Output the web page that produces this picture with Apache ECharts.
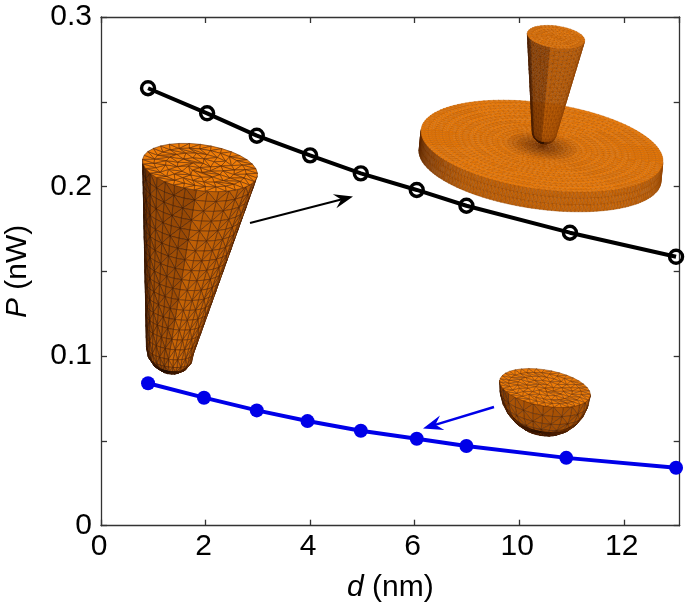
<!DOCTYPE html>
<html><head><meta charset="utf-8">
<style>html,body{margin:0;padding:0;background:#fff}#c{width:685px;height:602px}</style>
<script src="https://cdn.jsdelivr.net/npm/echarts@6/dist/echarts.min.js"></script>
</head><body><div id="c"></div>
<script>
// Horizontal position along the drawn axis; the printed tick labels skip 8.
const xTickLabels = ['0','2','4','6','10','12'];
const yTickLabels = {0:'0',0.1:'0.1',0.2:'0.2',0.3:'0.3'};
const openX = [0.90,2.03,2.98,4.00,4.97,6.04,6.99,8.97,11.00];
const openP = [0.258,0.2432,0.230,0.2184,0.2078,0.198,0.1887,0.1728,0.1586];
const solidX = [0.90,1.97,2.98,3.95,4.97,6.04,6.99,8.90,11.00];
const solidP = [0.084,0.0755,0.068,0.0617,0.056,0.0513,0.047,0.040,0.0342];

const FONT='"Liberation Sans", Arial, sans-serif';
const BLUE='#0000e8';
const parts=[];
function shade(f){
  const r=Math.min(255,Math.round(246*f)),g=Math.round(130*Math.pow(f,1.2)),b=Math.round(8*f);
  return 'rgb('+r+','+g+','+b+')';
}
function tri(pts,f,sw,so){
  parts.push({type:'polygon',silent:true,shape:{points:pts},
    style:{fill:shade(f),stroke:shade(f*(1-so)),lineWidth:sw,lineJoin:'round'}});
}
function ell(c,a,b,th,s){return [c[0]+s*(a[0]*Math.cos(th)+b[0]*Math.sin(th)),c[1]+s*(a[1]*Math.cos(th)+b[1]*Math.sin(th))];}
function axesFrom(A,B,deg){const p=deg*Math.PI/180,co=Math.cos(p),si=Math.sin(p);return [[A*co,A*si],[-B*si,B*co]];}
function frontCentre(a,b,d){
  const det=a[0]*b[1]-a[1]*b[0];
  const al=(d[0]*b[1]-d[1]*b[0])/det, be=(a[0]*d[1]-a[1]*d[0])/det;
  return Math.atan2(be,al);
}
function strip(r0,r1,fn,sw,so){
  let i=0,j=0;
  while(i<r0.length-1||j<r1.length-1){
    const u0=i/(r0.length-1||1),u1=j/(r1.length-1||1);
    if(j>=r1.length-1||(i<r0.length-1&&u0<=u1)){tri([r0[i],r0[i+1],r1[j]],fn((u0+u1)/2),sw,so);i++;}
    else{tri([r0[i],r1[j+1],r1[j]],fn((u0+u1)/2),sw,so);j++;}
  }
}
function cap(c,a,b,rings,stepPx,fn,sw,so,pow){
  let prev=null;
  for(let k=rings;k>=0;k--){
    const s=Math.pow(k/rings,pow||1);
    const rp=Math.hypot(a[0],a[1])*s;
    const n=s===0?1:Math.max(6,Math.round(2*Math.PI*rp/stepPx));
    const ring=[];
    for(let q=0;q<=n;q++)ring.push(ell(c,a,b,(q+(k%2)*0.5)/n*2*Math.PI,s));
    if(prev){const sv=s;strip(prev,ring,()=>fn(sv),sw,so);}
    prev=ring;
  }
}
function body(o){
  const {c0,c1,a,b,end,rows,hemiRows,n,sw,so,tone}=o;
  const d=[c1[0]-c0[0],c1[1]-c0[1]];
  const tc=frontCentre(a,b,Math.hypot(d[0],d[1])>1?d:o.dir);
  const L=[];
  for(let r=0;r<=rows;r++){const t=r/rows;L.push({c:[c0[0]+d[0]*t,c0[1]+d[1]*t],s:1+(end-1)*t,dk:1});}
  const u=o.dir;
  for(let r=1;r<=hemiRows;r++){const ph=r/hemiRows*Math.PI/2;
    L.push({c:[c1[0]+u[0]*Math.sin(ph),c1[1]+u[1]*Math.sin(ph)],s:end*Math.cos(ph),dk:o.hemiDark+(1-o.hemiDark)*Math.cos(ph)});}
  const ring=l=>{const R=[];for(let q=0;q<=n;q++){R.push(ell(l.c,a,b,tc-Math.PI/2+q/n*Math.PI,l.s));}return R;};
  for(let r=0;r<L.length-1;r++){
    const R0=ring(L[r]),R1=ring(L[r+1]),dk=(L[r].dk+L[r+1].dk)/2;
    for(let q=0;q<n;q++){
      const um=(q+0.5)/n; // 0 = right edge, 1 = left edge
      const f=tone(um,r/(L.length-1))*dk;
      const flip=(q+r)%2===0, alt=flip?1:0.96;
      if(flip){tri([R0[q],R0[q+1],R1[q]],f*alt,sw,so);tri([R0[q+1],R1[q+1],R1[q]],f*0.97,sw,so);}
      else{tri([R0[q],R0[q+1],R1[q+1]],f*alt,sw,so);tri([R0[q],R1[q+1],R1[q]],f,sw,so);}
    }
  }
}
function arrow(x0,y0,x1,y1,col,w,len){
  const l=Math.hypot(x1-x0,y1-y0),ux=(x1-x0)/l,uy=(y1-y0)/l,nx=-uy,ny=ux;
  const bx=x1-ux*len,by=y1-uy*len,hw=len*0.42;
  parts.push({type:'line',silent:true,shape:{x1:x0,y1:y0,x2:x1-ux*len*0.6,y2:y1-uy*len*0.6},style:{stroke:col,lineWidth:w}});
  parts.push({type:'polygon',silent:true,shape:{points:[[x1,y1],[bx+nx*hw-ux*2,by+ny*hw-uy*2],[x1-ux*len*0.72,y1-uy*len*0.72],[bx-nx*hw-ux*2,by-ny*hw-uy*2]]},style:{fill:col}});
}

// Disc with fine mesh
(function(){
  const c=[542,146],ax=axesFrom(122,43,8),a=ax[0],b=ax[1],th=[-2,20];
  const tc=frontCentre(a,b,th),n=96,rows=3;
  for(let r=0;r<rows;r++){
    for(let q=0;q<n;q++){
      const t0=tc-Math.PI/2+q/n*Math.PI,t1=tc-Math.PI/2+(q+1)/n*Math.PI;
      const off=(v,k)=>[v[0]+th[0]*k/rows,v[1]+th[1]*k/rows];
      const p00=off(ell(c,a,b,t0,1),r),p10=off(ell(c,a,b,t1,1),r),p01=off(ell(c,a,b,t0,1),r+1),p11=off(ell(c,a,b,t1,1),r+1);
      const um=(q+0.5)/n;
      const f=um>0.72?0.5+1.0*(1-um):0.84-0.12*Math.abs(um-0.3);
      tri([p00,p10,p01],f,0.4,0.25);tri([p10,p11,p01],f*0.97,0.4,0.25);
    }
  }
  cap(c,a,b,24,5.5,s=>0.55+0.42*Math.min(1,s*3.4),0.4,0.22,1.45);
})();
// Small cone standing on the disc
const smallAx=axesFrom(29,11,8);
body({c0:[556,37],c1:[544.5,131],a:smallAx[0],b:smallAx[1],end:0.43,rows:22,hemiRows:5,hemiDark:0.55,dir:[-1,12],n:18,sw:0.4,so:0.25,
  tone:u=>u>0.82?0.42:(u>0.55?0.6:0.78)});
cap([556,37],smallAx[0],smallAx[1],6,4,()=>0.97,0.4,0.25);
// Large cone
const bigAx=axesFrom(58,23,8);
body({c0:[200,167.5],c1:[170,350],a:bigAx[0],b:bigAx[1],end:0.41,rows:17,hemiRows:4,hemiDark:0.5,dir:[0,22],n:16,sw:0.6,so:0.55,
  tone:(u,v)=>(u>0.8?0.46:(u>0.5?0.62:0.76))+0.08*v});
cap([200,167.5],bigAx[0],bigAx[1],5,11,()=>0.97,0.6,0.6);
// Hemisphere
const hemiAx=axesFrom(46,18,10);
body({c0:[545,388],c1:[545,388],a:hemiAx[0],b:hemiAx[1],end:1,rows:1,hemiRows:7,hemiDark:0.62,dir:[-4,44],n:14,sw:0.5,so:0.5,
  tone:u=>u>0.75?0.55:0.7});
cap([545,388],hemiAx[0],hemiAx[1],5,8,()=>0.97,0.5,0.5);
// Arrows
arrow(250,223,353,196.5,'#000',2,17);
arrow(494,407,423,428.5,BLUE,2.4,18);

const chart=echarts.init(document.getElementById('c'),null,{renderer:'canvas'});
const axisStyle={lineStyle:{color:'#333',width:1.3}};
const label={color:'#000',fontFamily:FONT,fontSize:30};
const nameRich={i:{fontStyle:'italic',fontFamily:FONT,fontSize:30,color:'#000'},n:{fontFamily:FONT,fontSize:30,color:'#000'}};
chart.setOption({
  animation:false,backgroundColor:'#fff',
  grid:{left:101,right:5.3,top:17,height:508.7,outerBoundsMode:'none'},
  xAxis:[{type:'value',min:0,max:11.07,interval:2,position:'bottom',
      axisLine:{show:true,onZero:false,...axisStyle},axisTick:{show:true,inside:true,length:6,...axisStyle},
      splitLine:{show:false},
      axisLabel:{...label,margin:6,showMaxLabel:false,padding:[0,4,0,0],formatter:v=>xTickLabels[v/2]||''},
      name:'{i|d}{n| (nm)}',nameLocation:'middle',nameGap:47,nameTextStyle:{...label,rich:nameRich}},
    {type:'value',min:0,max:11.07,interval:2,position:'top',
      axisLine:{show:true,onZero:false,...axisStyle},axisTick:{show:true,inside:true,length:6,...axisStyle},
      axisLabel:{show:false},splitLine:{show:false}}],
  yAxis:[{type:'value',min:0,max:0.3,interval:0.05,position:'left',
      axisLine:{show:true,onZero:false,...axisStyle},axisTick:{show:true,inside:true,length:6,...axisStyle},
      splitLine:{show:false},
      axisLabel:{...label,margin:9,formatter:v=>yTickLabels[+v.toFixed(2)]||''},
      name:'{i|P}{n| (nW)}',nameLocation:'middle',nameGap:68,nameRotate:90,nameTextStyle:{...label,rich:nameRich}},
    {type:'value',min:0,max:0.3,interval:0.05,position:'right',
      axisLine:{show:true,onZero:false,...axisStyle},axisTick:{show:true,inside:true,length:6,...axisStyle},
      axisLabel:{show:false},splitLine:{show:false}}],
  series:[
    {type:'line',clip:false,z:5,data:openX.map((x,i)=>[x,openP[i]]),symbol:'circle',symbolSize:13,
     lineStyle:{color:'#000',width:4},itemStyle:{color:'rgba(255,255,255,0)',borderColor:'#000',borderWidth:3.4}},
    {type:'line',clip:false,z:5,data:solidX.map((x,i)=>[x,solidP[i]]),symbol:'circle',symbolSize:14,
     lineStyle:{color:BLUE,width:4},itemStyle:{color:BLUE,borderWidth:0}}
  ],
  graphic:{elements:[{type:'group',silent:true,z:3,children:parts}]}
});
</script></body></html>
